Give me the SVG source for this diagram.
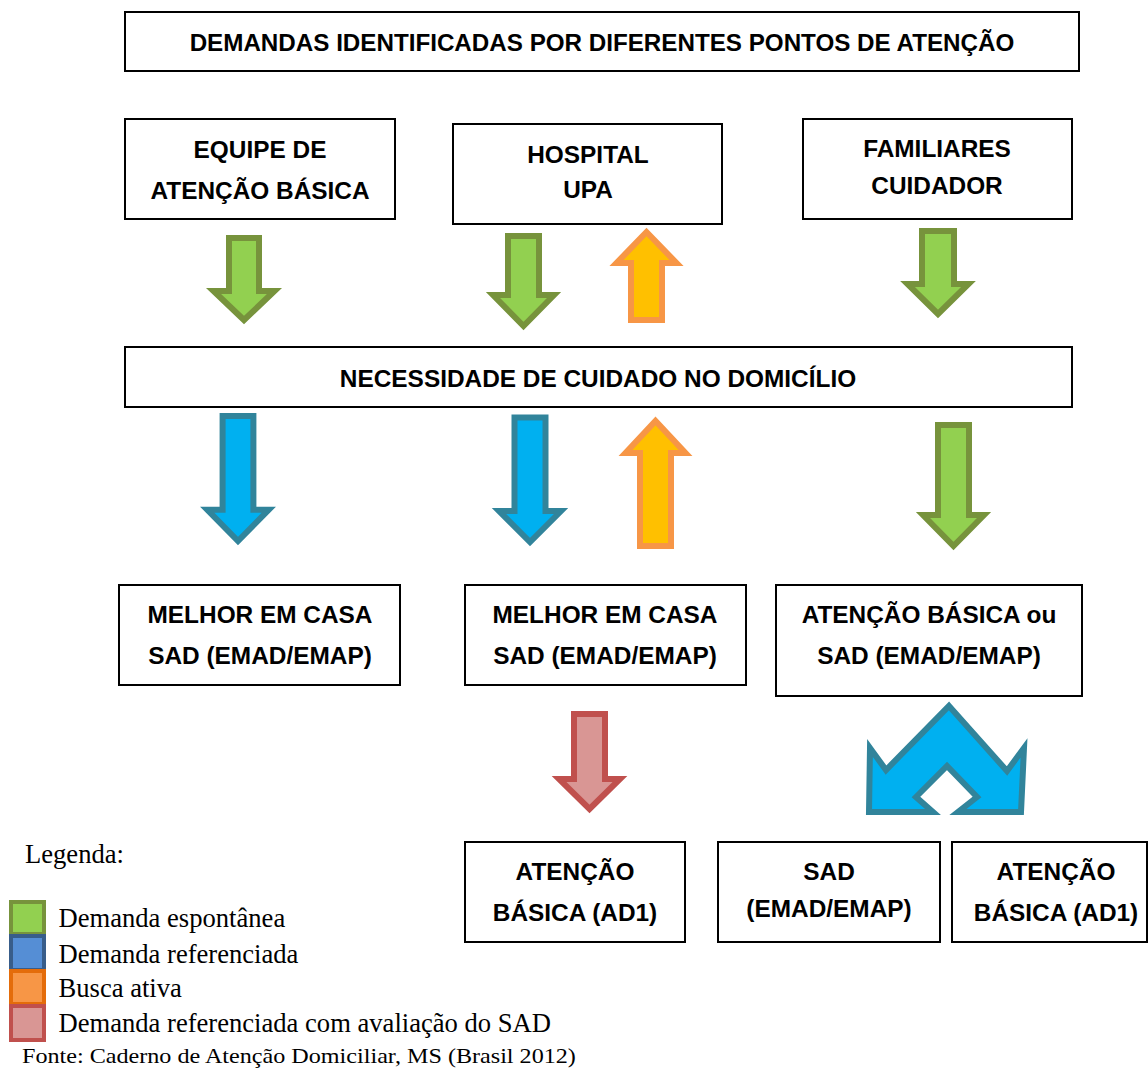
<svg xmlns="http://www.w3.org/2000/svg" width="1148" height="1068" viewBox="0 0 1148 1068">
<style>
.box{fill:#fff;stroke:#000;stroke-width:2}
.t{font-family:"Liberation Sans",Arial,sans-serif;font-weight:bold;font-size:24.4px;text-anchor:middle;fill:#000}
.lg{font-family:"Liberation Serif","Times New Roman",serif;font-size:26.6px;fill:#000}
.g{fill:#92D050;stroke:#77933C;stroke-width:6;stroke-linejoin:miter}
.b{fill:#00B0F0;stroke:#31849B;stroke-width:6;stroke-linejoin:miter}
.o{fill:#FFC000;stroke:#F79646;stroke-width:6;stroke-linejoin:miter}
.r{fill:#D99694;stroke:#C0504D;stroke-width:6;stroke-linejoin:miter}
</style>
<rect width="1148" height="1068" fill="#fff"/>
<g id="n-title"><rect class="box" x="125" y="12" width="954" height="59"/><text class="t" x="602" y="50.5" style="font-size:24.2px">DEMANDAS IDENTIFICADAS POR DIFERENTES PONTOS DE ATENÇÃO</text></g>
<g id="n-equipe"><rect class="box" x="125" y="119" width="270" height="100"/><text class="t" x="260" y="157.5">EQUIPE DE</text><text class="t" x="260" y="198.5">ATENÇÃO BÁSICA</text></g>
<g id="n-hospital"><rect class="box" x="453" y="124" width="269" height="100"/><text class="t" x="588" y="162.5">HOSPITAL</text><text class="t" x="588" y="197.5">UPA</text></g>
<g id="n-familiares"><rect class="box" x="803" y="119" width="269" height="100"/><text class="t" x="937" y="156.5">FAMILIARES</text><text class="t" x="937" y="193.5">CUIDADOR</text></g>
<g id="n-necessidade"><rect class="box" x="125" y="347" width="947" height="60"/><text class="t" x="598" y="386.5">NECESSIDADE DE CUIDADO NO DOMICÍLIO</text></g>
<g id="n-melhor1"><rect class="box" x="119" y="585" width="281" height="100"/><text class="t" x="260" y="622.5">MELHOR EM CASA</text><text class="t" x="260" y="663.5">SAD (EMAD/EMAP)</text></g>
<g id="n-melhor2"><rect class="box" x="465" y="585" width="281" height="100"/><text class="t" x="605" y="622.5">MELHOR EM CASA</text><text class="t" x="605" y="663.5">SAD (EMAD/EMAP)</text></g>
<g id="n-atencao-ou"><rect class="box" x="776" y="585" width="306" height="111"/><text class="t" x="929" y="622.5">ATENÇÃO BÁSICA ou</text><text class="t" x="929" y="663.5">SAD (EMAD/EMAP)</text></g>
<g id="n-ab1"><rect class="box" x="465" y="842" width="220" height="100"/><text class="t" x="575" y="880">ATENÇÃO</text><text class="t" x="575" y="921">BÁSICA (AD1)</text></g>
<g id="n-sad"><rect class="box" x="718" y="842" width="222" height="100"/><text class="t" x="829" y="880">SAD</text><text class="t" x="829" y="917">(EMAD/EMAP)</text></g>
<g id="n-ab2"><rect class="box" x="952" y="842" width="195" height="100"/><text class="t" x="1056" y="880">ATENÇÃO</text><text class="t" x="1056" y="921">BÁSICA (AD1)</text></g>
<g id="connectors">
<polygon class="g" points="229,238 259,238 259,291 274.5,291 244,320 213.5,291 229,291"/>
<polygon class="g" points="508,236 539,236 539,295 554,295 523.5,326 493,295 508,295"/>
<polygon class="g" points="922,231 954,231 954,284 968.5,284 938,314 907.5,284 922,284"/>
<polygon class="o" points="631,320 662,320 662,263 676.5,263 646.5,232 616.5,263 631,263"/>
<polygon class="b" points="222.6,416 253.4,416 253.4,509.7 268.8,509.7 238,541 207.2,509.7 222.6,509.7"/>
<polygon class="b" points="514.5,417.5 545.5,417.5 545.5,511 561,511 530,542 499,511 514.5,511"/>
<polygon class="o" points="640,546 671,546 671,453 685.5,453 655.5,421 625.5,453 640,453"/>
<polygon class="g" points="938,425 969,425 969,515 984,515 953.5,546 923,515 938,515"/>
<polygon class="r" points="574,714 605,714 605,779 620,779 589.5,809 559,779 574,779"/>
<polygon class="b" points="949,706 1007,771 1024,748 1021,812 958,812 977,797 947,766 916,797 933,812 869,812 870,748 886,770"/>
</g>
<g id="legend">
<text class="lg" x="25" y="862.7">Legenda:</text>
<rect x="11" y="902" width="33" height="32" fill="#92D050" stroke="#77933C" stroke-width="4"/>
<rect x="11" y="936" width="33" height="34" fill="#558ED5" stroke="#385D8A" stroke-width="4"/>
<rect x="11" y="971" width="33" height="33" fill="#F79646" stroke="#E46C0A" stroke-width="4"/>
<rect x="11" y="1006" width="33" height="34" fill="#D99694" stroke="#C0504D" stroke-width="4"/>
<text class="lg" x="58.5" y="927.3">Demanda espontânea</text>
<text class="lg" x="58.5" y="962.5">Demanda referenciada</text>
<text class="lg" x="58.5" y="997">Busca ativa</text>
<text class="lg" x="58.5" y="1031.7">Demanda referenciada com avaliação do SAD</text>
<text class="lg" transform="translate(22,1062.7) scale(1.15,1)" style="font-size:21px">Fonte: Caderno de Atenção Domiciliar, MS (Brasil 2012)</text>
</g>
</svg>
